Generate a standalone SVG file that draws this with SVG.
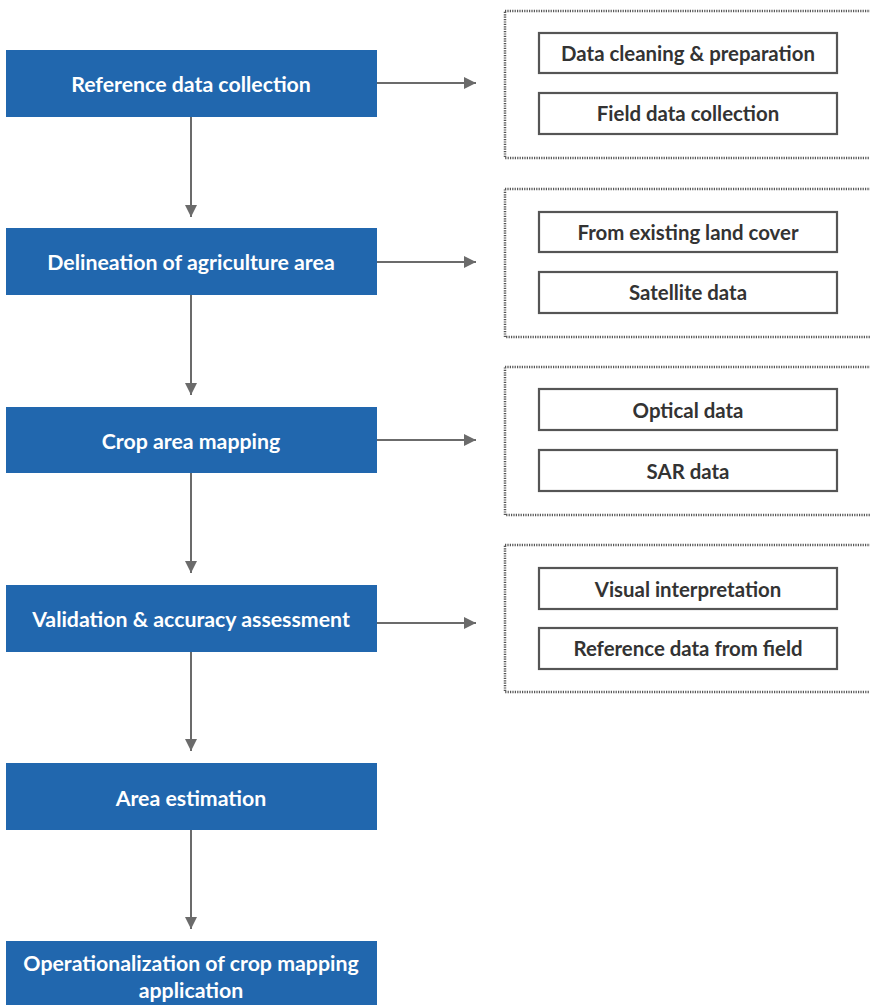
<svg xmlns="http://www.w3.org/2000/svg" width="870" height="1005" viewBox="0 0 870 1005">
<style>
.main{fill:#2167ae}
.mt{fill:#fff;font-family:Lato,"Open Sans",sans-serif;font-weight:bold;font-size:21.3px;text-anchor:middle}
.grp{fill:none;stroke:#555;stroke-width:2.5;stroke-dasharray:1.2 1.2}
.sub{fill:#fff;stroke:#555;stroke-width:2.2}
.st{fill:#333;font-family:Lato,"Open Sans",sans-serif;font-weight:bold;font-size:20.4px;text-anchor:middle}
.con{stroke:#6b6b6b;stroke-width:2;fill:none;marker-end:url(#ah)}
</style>
<defs>
<marker id="ah" viewBox="0 0 10 10" refX="10" refY="5" markerWidth="13" markerHeight="12" markerUnits="userSpaceOnUse" orient="auto"><path d="M0,0 L10,5 L0,10 z" fill="#6b6b6b"/></marker>
</defs>
<rect width="870" height="1005" fill="#fff"/>
<g id="connectors">
<line class="con" x1="191" y1="117" x2="191" y2="217"/>
<line class="con" x1="191" y1="295" x2="191" y2="395"/>
<line class="con" x1="191" y1="473" x2="191" y2="573"/>
<line class="con" x1="191" y1="652" x2="191" y2="751"/>
<line class="con" x1="191" y1="830" x2="191" y2="929"/>
<line class="con" x1="377" y1="83" x2="476" y2="83"/>
<line class="con" x1="377" y1="262" x2="476" y2="262"/>
<line class="con" x1="377" y1="440" x2="476" y2="440"/>
<line class="con" x1="377" y1="623" x2="476" y2="623"/>
</g>
<g id="n1"><rect class="main" x="6" y="50" width="371" height="67"/><text class="mt" x="191" y="92">Reference data collection</text></g>
<g id="n2"><rect class="main" x="6" y="228" width="371" height="67"/><text class="mt" x="191" y="270">Delineation of agriculture area</text></g>
<g id="n3"><rect class="main" x="6" y="407" width="371" height="66"/><text class="mt" x="191" y="449">Crop area mapping</text></g>
<g id="n4"><rect class="main" x="6" y="585" width="371" height="67"/><text class="mt" x="191" y="627">Validation &amp; accuracy assessment</text></g>
<g id="n5"><rect class="main" x="6" y="763" width="371" height="67"/><text class="mt" x="191" y="806">Area estimation</text></g>
<g id="n6"><rect class="main" x="6" y="941" width="371" height="70"/><text class="mt" x="191" y="971">Operationalization of crop mapping</text><text class="mt" x="191" y="998">application</text></g>
<g id="g1"><rect class="grp" x="505" y="11" width="370" height="147"/>
<rect class="sub" x="539" y="33" width="298" height="40"/><text class="st" x="688" y="61">Data cleaning &amp; preparation</text>
<rect class="sub" x="539" y="93" width="298" height="41"/><text class="st" x="688" y="121">Field data collection</text></g>
<g id="g2"><rect class="grp" x="505" y="189" width="370" height="148"/>
<rect class="sub" x="539" y="212" width="298" height="40"/><text class="st" x="688" y="240">From existing land cover</text>
<rect class="sub" x="539" y="272" width="298" height="41"/><text class="st" x="688" y="300">Satellite data</text></g>
<g id="g3"><rect class="grp" x="505" y="367" width="370" height="148"/>
<rect class="sub" x="539" y="389" width="298" height="41"/><text class="st" x="688" y="418">Optical data</text>
<rect class="sub" x="539" y="450" width="298" height="41"/><text class="st" x="688" y="479">SAR data</text></g>
<g id="g4"><rect class="grp" x="505" y="545" width="370" height="147"/>
<rect class="sub" x="539" y="568" width="298" height="41"/><text class="st" x="688" y="597">Visual interpretation</text>
<rect class="sub" x="539" y="628" width="298" height="41"/><text class="st" x="688" y="656">Reference data from field</text></g>
</svg>
